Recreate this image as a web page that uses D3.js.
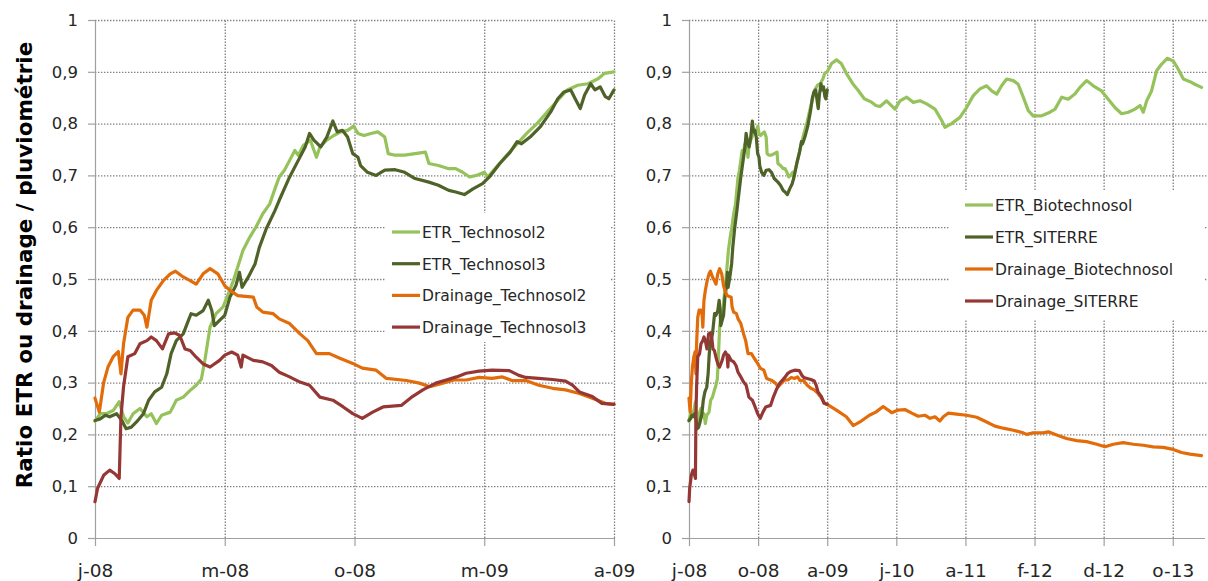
<!DOCTYPE html>
<html>
<head>
<meta charset="utf-8">
<script src="https://cdn.jsdelivr.net/npm/d3@7"></script>
<style>
    body { margin: 0; background: #fff; }
    svg text { font-family: "DejaVu Sans", sans-serif; fill: #262626; }
    .grid line { stroke: #808080; stroke-width: 1.3; stroke-dasharray: 1.4, 1.6; }
    .grid path { display: none; }
    .axis path, .axis line { stroke: #a0a0a0; stroke-width: 1.2; }
    .serie { fill: none; stroke-width: 3.2; stroke-linejoin: round; stroke-linecap: round; }
</style>
</head>
<body>
<div id="chart"></div>
<script>

// days counted from 1 Jan 2008, values = ratio to rainfall
const etrTechnosol2 = [[0,0.225],[6,0.24],[13,0.24],[21,0.246],[28,0.263],[33,0.234],[38,0.222],[44,0.24],[52,0.25],[60,0.234],[65,0.24],[71,0.221],[77,0.237],[87,0.243],[94,0.266],[102,0.272],[110,0.285],[117,0.295],[123,0.307],[127,0.343],[133,0.407],[140,0.433],[148,0.446],[154,0.471],[160,0.497],[165,0.523],[171,0.555],[179,0.581],[186,0.6],[194,0.626],[202,0.645],[208,0.674],[213,0.697],[219,0.71],[225,0.729],[231,0.748],[235,0.739],[241,0.758],[249,0.768],[256,0.735],[260,0.755],[268,0.768],[276,0.777],[284,0.784],[292,0.787],[299,0.795],[304,0.781],[311,0.777],[319,0.781],[327,0.784],[335,0.774],[339,0.742],[347,0.739],[358,0.739],[370,0.742],[382,0.745],[386,0.723],[397,0.719],[409,0.713],[417,0.713],[425,0.706],[433,0.697],[441,0.7],[450,0.706],[454,0.697],[464,0.716],[476,0.739],[488,0.761],[499,0.781],[511,0.8],[523,0.823],[535,0.845],[546,0.865],[558,0.874],[570,0.877],[582,0.887],[589,0.897],[600,0.9]];

const etrTechnosol3 = [[0,0.227],[6,0.23],[12,0.237],[17,0.234],[25,0.24],[31,0.227],[36,0.211],[42,0.214],[48,0.224],[56,0.24],[62,0.266],[69,0.282],[77,0.291],[83,0.317],[88,0.356],[94,0.381],[102,0.394],[108,0.42],[111,0.433],[117,0.43],[125,0.439],[131,0.459],[135,0.439],[138,0.41],[144,0.42],[150,0.43],[156,0.465],[163,0.488],[167,0.513],[170,0.484],[177,0.503],[185,0.529],[190,0.561],[198,0.597],[208,0.632],[213,0.652],[225,0.697],[235,0.729],[243,0.755],[248,0.781],[253,0.768],[261,0.755],[268,0.774],[275,0.805],[280,0.784],[286,0.787],[292,0.774],[298,0.742],[304,0.735],[307,0.719],[315,0.706],[325,0.7],[335,0.71],[347,0.711],[358,0.706],[370,0.694],[386,0.687],[397,0.681],[409,0.671],[417,0.668],[427,0.663],[437,0.674],[448,0.684],[456,0.697],[468,0.723],[480,0.745],[488,0.765],[493,0.761],[503,0.774],[515,0.794],[527,0.823],[535,0.848],[542,0.861],[550,0.865],[556,0.845],[561,0.829],[566,0.855],[573,0.877],[578,0.865],[584,0.871],[590,0.852],[594,0.848],[600,0.865]];

const drainageTechnosol2 = [[0,0.27],[5,0.243],[10,0.3],[15,0.33],[21,0.35],[27,0.36],[30,0.317],[33,0.375],[38,0.426],[44,0.44],[52,0.44],[57,0.43],[60,0.407],[65,0.459],[71,0.478],[79,0.497],[87,0.51],[93,0.515],[102,0.504],[110,0.497],[117,0.49],[125,0.51],[133,0.52],[142,0.51],[150,0.487],[156,0.478],[165,0.468],[183,0.465],[187,0.446],[194,0.436],[206,0.433],[213,0.423],[225,0.414],[237,0.394],[246,0.381],[256,0.356],[271,0.356],[283,0.347],[298,0.337],[309,0.328],[325,0.324],[337,0.308],[360,0.304],[375,0.299],[387,0.292],[402,0.299],[415,0.305],[429,0.305],[444,0.31],[459,0.308],[471,0.311],[482,0.304],[498,0.304],[513,0.295],[529,0.289],[544,0.286],[560,0.279],[575,0.27],[590,0.26],[600,0.258]];

const drainageTechnosol3 = [[0,0.07],[3,0.096],[10,0.121],[17,0.131],[23,0.124],[28,0.115],[30,0.234],[33,0.292],[38,0.35],[46,0.356],[52,0.375],[60,0.381],[65,0.388],[71,0.381],[78,0.365],[85,0.394],[92,0.396],[98,0.391],[104,0.365],[110,0.362],[117,0.349],[125,0.336],[133,0.33],[138,0.336],[144,0.343],[150,0.353],[158,0.359],[165,0.353],[169,0.33],[171,0.353],[183,0.343],[194,0.34],[204,0.333],[213,0.32],[225,0.311],[237,0.301],[248,0.295],[260,0.272],[275,0.266],[287,0.253],[298,0.24],[309,0.231],[321,0.243],[333,0.253],[354,0.256],[367,0.273],[379,0.286],[394,0.299],[406,0.305],[418,0.311],[429,0.318],[444,0.322],[459,0.324],[479,0.323],[490,0.314],[498,0.31],[513,0.308],[529,0.306],[544,0.303],[552,0.295],[560,0.282],[575,0.273],[586,0.26],[600,0.258]];

// Biotechnosol continues after Aug 2009
const etrBiotechnosolSuite = [[619,0.916],[640,0.923],[661,0.916],[683,0.897],[711,0.877],[733,0.865],[761,0.848],[790,0.842],[811,0.835],[829,0.833],[858,0.844],[894,0.828],[916,0.844],[945,0.851],[974,0.841],[1003,0.844],[1032,0.838],[1068,0.828],[1097,0.806],[1111,0.793],[1140,0.8],[1176,0.812],[1205,0.831],[1234,0.854],[1263,0.867],[1292,0.873],[1314,0.863],[1336,0.857],[1357,0.873],[1379,0.886],[1408,0.883],[1429,0.876],[1451,0.851],[1473,0.825],[1494,0.815],[1531,0.815],[1567,0.822],[1589,0.828],[1618,0.851],[1646,0.847],[1675,0.857],[1697,0.87],[1726,0.883],[1755,0.873],[1791,0.863],[1820,0.847],[1849,0.831],[1878,0.819],[1907,0.822],[1936,0.828],[1958,0.835],[1972,0.822],[1987,0.844],[2008,0.863],[2030,0.902],[2052,0.915],[2076,0.926],[2102,0.921],[2124,0.905],[2146,0.886],[2175,0.881],[2196,0.876],[2225,0.87]];

const drainageBiotechnosolSuite = [[640,0.247],[683,0.234],[713,0.217],[742,0.224],[783,0.237],[811,0.243],[843,0.254],[880,0.242],[908,0.247],[937,0.248],[967,0.241],[995,0.235],[1024,0.237],[1046,0.231],[1068,0.234],[1089,0.226],[1104,0.234],[1125,0.241],[1162,0.239],[1205,0.237],[1249,0.233],[1292,0.224],[1328,0.216],[1364,0.212],[1408,0.208],[1451,0.203],[1466,0.2],[1494,0.203],[1538,0.203],[1560,0.205],[1596,0.199],[1639,0.192],[1683,0.188],[1726,0.186],[1770,0.181],[1806,0.176],[1842,0.181],[1885,0.184],[1929,0.181],[1972,0.179],[2015,0.176],[2059,0.175],[2102,0.171],[2138,0.165],[2175,0.162],[2225,0.159]];

const yTicks = [0, 0.1, 0.2, 0.3, 0.4, 0.5, 0.6, 0.7, 0.8, 0.9, 1];
const leftTickDays = [0, 150, 300, 450, 600];
const leftTickLabels = ["j-08", "m-08", "o-08", "m-09", "a-09"];
const rightTickDays = [0, 300, 600, 900, 1200, 1500, 1800, 2100];
const rightTickLabels = ["j-08", "o-08", "a-09", "j-10", "a-11", "f-12", "d-12", "o-13"];

const leftNames = ["ETR_Technosol2", "ETR_Technosol3", "Drainage_Technosol2", "Drainage_Technosol3"];
const rightNames = ["ETR_Biotechnosol", "ETR_SITERRE", "Drainage_Biotechnosol", "Drainage_SITERRE"];
const colors = ["#95c25b", "#4f6228", "#e36c0a", "#953735"];

const frFormat = d3.formatLocale({decimal: ",", thousands: " ", grouping: [3], currency: ["", " €"]}).format(".1~f");


class RatioChart {

    constructor(_svg, _series, _config) {
        this.svg = _svg;
        this.series = _series;
        this.config = _config;

        this.initVis();
    }

    initVis() {
        let vis = this;
        let c = vis.config;

        vis.top = 20;
        vis.bottom = 538;

        vis.x = d3.scaleLinear()
            .domain([0, c.maxDay])
            .range([c.left, c.right]);

        vis.y = d3.scaleLinear()
            .domain([0, 1])
            .range([vis.bottom, vis.top]);

        vis.g = vis.svg.append("g");

        // Dotted grid
        vis.g.append("g")
            .attr("class", "grid")
            .attr("transform", "translate(" + c.left + ",0)")
            .call(d3.axisLeft(vis.y).tickValues(yTicks.slice(1)).tickSize(-(c.gridRight - c.left)).tickFormat(""));

        vis.g.append("g")
            .attr("class", "grid")
            .attr("transform", "translate(0," + vis.bottom + ")")
            .call(d3.axisBottom(vis.x).tickValues(c.tickDays.slice(1)).tickSize(-(vis.bottom - vis.top)).tickFormat(""));

        // Legend background hides the grid
        vis.g.append("rect")
            .attr("x", c.legend.box[0])
            .attr("y", c.legend.box[1])
            .attr("width", c.legend.box[2])
            .attr("height", c.legend.box[3])
            .attr("fill", "#fff");

        // Axes
        vis.yAxis = d3.axisLeft(vis.y)
            .tickValues(yTicks)
            .tickSize(7)
            .tickSizeOuter(0)
            .tickPadding(10)
            .tickFormat(frFormat);

        vis.xAxis = d3.axisBottom(vis.x)
            .tickValues(c.tickDays)
            .tickSize(8)
            .tickSizeOuter(0)
            .tickPadding(18)
            .tickFormat((d, i) => c.tickLabels[i]);

        vis.g.append("g")
            .attr("class", "x-axis axis")
            .attr("transform", "translate(0," + vis.bottom + ")")
            .call(vis.xAxis);

        vis.g.append("g")
            .attr("class", "y-axis axis")
            .attr("transform", "translate(" + c.left + ",0)")
            .call(vis.yAxis);

        vis.g.selectAll(".axis text").attr("fill", "#262626").attr("font-family", "DejaVu Sans, sans-serif");
        vis.g.selectAll(".x-axis text").attr("font-size", 18.5);
        vis.g.selectAll(".y-axis text").attr("font-size", 16.5);

        // extend x axis line to the plot edge
        vis.g.select(".x-axis .domain").attr("d", "M" + c.left + ",0.5H" + c.right);

        vis.updateVis();
    }

    updateVis() {
        let vis = this;
        let c = vis.config;

        let line = d3.line()
            .x(d => vis.x(d[0]))
            .y(d => vis.y(d[1]));

        vis.g.selectAll(".serie")
            .data(vis.series)
            .enter()
            .append("path")
            .attr("class", "serie")
            .attr("stroke", (d, i) => colors[i])
            .attr("d", d => line(d));

        // Legend
        let items = vis.g.selectAll(".legend-item")
            .data(c.names)
            .enter()
            .append("g")
            .attr("class", "legend-item")
            .attr("transform", (d, i) => "translate(" + c.legend.x + "," + (c.legend.y + i * c.legend.step) + ")");

        items.append("line")
            .attr("x1", 0)
            .attr("x2", 28)
            .attr("stroke", (d, i) => colors[i])
            .attr("stroke-width", 3.2);

        items.append("text")
            .attr("x", 30)
            .attr("y", 6)
            .attr("font-size", 15.5)
            .text(d => d);
    }
}


let svg = d3.select("#chart").append("svg")
    .attr("width", 1208)
    .attr("height", 581);

new RatioChart(svg,
    [etrTechnosol2, etrTechnosol3, drainageTechnosol2, drainageTechnosol3],
    {
        left: 95, right: 614, gridRight: 614, maxDay: 600,
        tickDays: leftTickDays, tickLabels: leftTickLabels, names: leftNames,
        legend: {x: 392, y: 232, step: 31.7, box: [385, 213, 226, 129]}
    });

new RatioChart(svg,
    [etrTechnosol2.concat(etrBiotechnosolSuite), etrTechnosol3,
     drainageTechnosol2.concat(drainageBiotechnosolSuite), drainageTechnosol3],
    {
        left: 689, right: 1205, gridRight: 1207, maxDay: 2240,
        tickDays: rightTickDays, tickLabels: rightTickLabels, names: rightNames,
        legend: {x: 965, y: 205, step: 32, box: [949, 190, 256, 130]}
    });

// Y title
svg.append("text")
    .attr("transform", "translate(32,265) rotate(-90)")
    .attr("text-anchor", "middle")
    .attr("font-family", "Open Sans, sans-serif")
    .attr("font-weight", "bold")
    .attr("font-size", 21.5)
    .style("fill", "#000")
    .text("Ratio ETR ou drainage / pluviométrie");

</script>
</body>
</html>
